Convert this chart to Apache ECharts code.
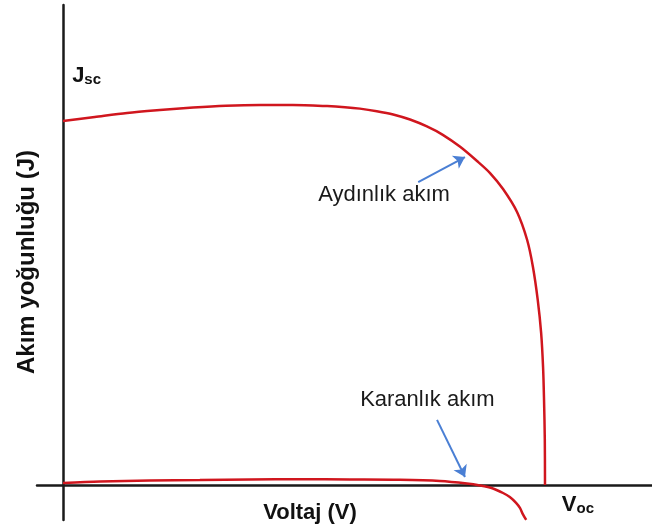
<!DOCTYPE html>
<html><head><meta charset="utf-8">
<script src="https://cdn.jsdelivr.net/npm/echarts@6/dist/echarts.min.js"></script>
<style>html,body{margin:0;padding:0;background:#fff}#c{width:652px;height:532px}</style>
</head><body><div id="c"></div>
<script>
// Normalised voltage (V/Voc) and current density (J/Jsc)
const lightV = [0,0.066,0.133,0.201,0.270,0.338,0.409,0.477,0.548,0.585,0.616,0.651,0.685,0.720,0.755,0.788,0.824,0.859,0.886,0.913,0.942,0.963,0.975,0.985,0.992,0.996,0.998,0.9996,1.0];
const lightJ = [1.0,1.011,1.022,1.030,1.037,1.042,1.044,1.044,1.041,1.038,1.034,1.027,1.018,1.004,0.985,0.962,0.929,0.890,0.857,0.813,0.750,0.673,0.599,0.508,0.418,0.324,0.234,0.124,0];
const darkV = [0,0.077,0.180,0.284,0.388,0.492,0.595,0.699,0.782,0.838,0.865,0.892,0.913,0.927,0.940,0.948,0.954,0.961];
const darkJ = [0.0055,0.0096,0.0124,0.0137,0.0151,0.0157,0.0151,0.0143,0.011,0.0041,-0.0014,-0.0096,-0.022,-0.033,-0.049,-0.063,-0.080,-0.096];
const annoText = ['Aydınlık akım','Karanlık akım'];
const annoPos = [[0.666,0.797],[0.756,0.234]];
const arrows = [[[0.737,0.832],[0.834,0.901]],[[0.776,0.179],[0.834,0.022]]];
const jscPos = [0.019,1.124];
const vocPos = [1.035,-0.055];
const xTitle = 'Voltaj (V)';
const yTitle = 'Akım yoğunluğu (J)';

const zip = (a,b)=>a.map((v,i)=>[v,b[i]]);
const red = '#d0161e';
const font = '"Liberation Sans", Arial, sans-serif';
const chart = echarts.init(document.getElementById('c'));
chart.setOption({
  animation:false,
  grid:{left:37,right:0,top:5,bottom:12},
  xAxis:{type:'value',min:-0.0539,max:1.222,
    axisLine:{show:true,onZero:true,lineStyle:{color:'#1a1a1a',width:2.5}},
    axisTick:{show:false},axisLabel:{show:false},splitLine:{show:false}},
  yAxis:{type:'value',min:-0.0962,max:1.3187,
    axisLine:{show:true,onZero:true,lineStyle:{color:'#1a1a1a',width:2.5}},
    axisTick:{show:false},axisLabel:{show:false},splitLine:{show:false}},
  graphic:[
    {type:'text',x:310,y:513,style:{text:xTitle,font:'bold 22px '+font,fill:'#111',align:'center',verticalAlign:'middle'}},
    {type:'text',rotation:Math.PI/2,x:27,y:262,style:{text:yTitle,font:'bold 24px '+font,fill:'#111',align:'center',verticalAlign:'middle'}}
  ],
  series:[
    {type:'line',data:zip(lightV,lightJ),smooth:0.3,showSymbol:false,lineStyle:{color:red,width:2.5},z:3},
    {type:'line',data:zip(darkV,darkJ),smooth:0.3,showSymbol:false,lineStyle:{color:red,width:2.5},z:3},
    {type:'lines',coordinateSystem:'cartesian2d',data:arrows.map(a=>({coords:a})),
      symbol:['none','arrow'],symbolSize:11,lineStyle:{color:'#4a7fd4',width:2,opacity:1},z:4},
    {type:'scatter',symbolSize:0,itemStyle:{opacity:1},data:annoPos.map((p,i)=>({value:p,name:annoText[i]})),
      label:{show:true,position:'inside',formatter:p=>p.name,color:'#1a1a1a',fontFamily:font,fontSize:22}},
    {type:'scatter',symbolSize:0,itemStyle:{opacity:1},data:[{value:jscPos},{value:vocPos}],
      label:{show:true,position:'right',distance:0,
        formatter:p=>p.dataIndex===0?'{b|J}{s|sc}':'{b|V}{s|oc}',
        rich:{b:{fontFamily:font,fontWeight:'bold',fontSize:22,color:'#111',verticalAlign:'bottom'},
              s:{fontFamily:font,fontWeight:'bold',fontSize:15,color:'#111',verticalAlign:'bottom'}}}}
  ]
});
</script></body></html>
